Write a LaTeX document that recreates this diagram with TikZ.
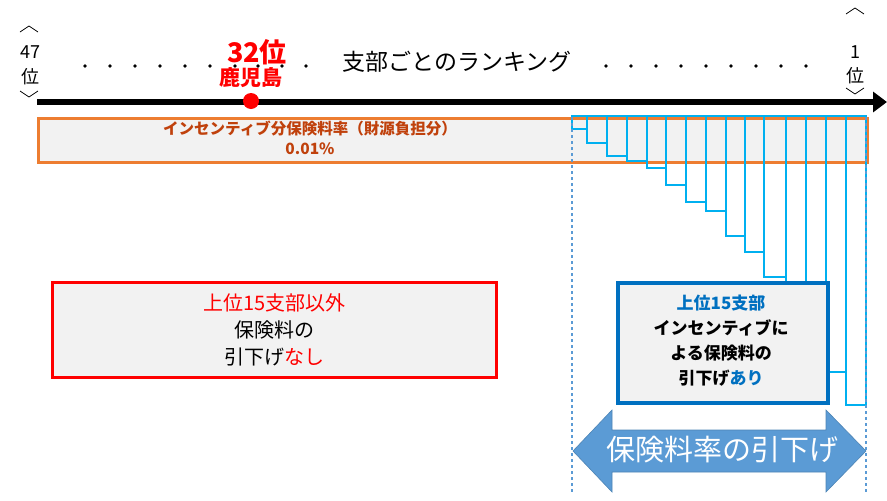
\documentclass[tikz,border=0pt]{standalone}
\usepackage{fontspec}
\setmainfont{Noto Sans CJK JP}
\usetikzlibrary{arrows.meta}
\definecolor{ored}{HTML}{ED7D31}
\definecolor{dred}{HTML}{C0410C}
\definecolor{cyanb}{HTML}{00B0F0}
\definecolor{blu}{HTML}{0070C0}
\definecolor{lblu}{HTML}{5B9BD5}
\definecolor{gfill}{HTML}{F2F2F2}
\begin{document}
\begin{tikzpicture}[x=1pt,y=-1pt,
  chev/.style={line width=0.8pt},
  lbl/.style={inner sep=0pt,align=center}]
\useasboundingbox (0,0) rectangle (887,501);
% orange box
\node[draw=ored,line width=2.6pt,fill=gfill,minimum width=829pt,minimum height=44pt,anchor=north west,inner sep=0pt] (obox) at (37,117) {};
\node[lbl,text=dred,font=\bfseries\fontsize{15.5}{20}\selectfont] (otxt) at (310,138) {インセンティブ分保険料率（財源負担分）\\0.01\%};
% bars
\foreach \a/\b/\d in {572/587/129,587/607/143,607/627/156,627/647/161,647/666/168,666/686/185,686/706/202,706/726/211,726/745/236,745/764/252,764/786/277,786/806/311,806/826/338,826/846/372,846/866/405}
  \draw[cyanb,line width=1.8pt] (\a,116) rectangle (\b,\d);
% dashed
\coordinate (d1t) at (572,117); \coordinate (d1b) at (572,492);
\coordinate (d2t) at (866,117); \coordinate (d2b) at (866,492);
\draw[lblu,dashed,line width=1.8pt] (d1t) -- (d1b);
\draw[lblu,dashed,line width=1.8pt] (d2t) -- (d2b);
% axis
\coordinate (ax1) at (37,102); \coordinate (ax2) at (887,102);
\draw[line width=6pt,-{Triangle[length=14pt,width=20pt]}] (ax1) -- (ax2);
\fill[red] (251,101) circle (8pt);
\node[lbl,text=red,font=\bfseries\fontsize{27}{27}\selectfont] (r32) at (257,52) {32位};
\node[lbl,text=red,font=\bfseries\fontsize{21}{21}\selectfont] (kago) at (251,78) {鹿児島};
\node[lbl,font=\fontsize{23}{23}\selectfont] (title) at (457,62) {支部ごとのランキング};
\foreach \x in {85,110,135,160,185,210,235,258,282,306} \fill (\x,66) circle (1.8pt);
\foreach \x in {606,631,656,681,706,731,756,781,806} \fill (\x,66) circle (1.8pt);
% 47位
\draw[chev] (20,32) -- (29,26) -- (38,32);
\node[lbl,font=\fontsize{18}{18}\selectfont] (n47) at (30,52) {47};
\node[lbl,font=\fontsize{18}{18}\selectfont] (i47) at (30,77) {位};
\draw[chev] (20,91) -- (29,97) -- (38,91);
% 1位
\draw[chev] (846,14) -- (855,8) -- (864,14);
\node[lbl,font=\fontsize{18}{18}\selectfont] (n1) at (855,52) {1};
\node[lbl,font=\fontsize{18}{18}\selectfont] (i1) at (855,76) {位};
\draw[chev] (846,88) -- (855,94) -- (864,88);
% red box
\node[draw=red,line width=3pt,fill=gfill,minimum width=444pt,minimum height=95pt,anchor=north west,inner sep=0pt] (rbox) at (51,281) {};
\node[lbl,font=\fontsize{20}{27}\selectfont] (rtxt) at (rbox.center) {\textcolor{red}{上位15支部以外}\\保険料の\\引下げ\textcolor{red}{なし}};
% blue box
\node[draw=blu,line width=3.5pt,fill=gfill,minimum width=210pt,minimum height=120pt,anchor=north west,inner sep=0pt] (bbox) at (616,281) {};
\node[lbl,font=\bfseries\fontsize{17}{25}\selectfont] (btxt) at (721,341) {\textcolor{blu}{上位15支部}\\インセンティブに\\よる保険料の\\引下げ\textcolor{blu}{あり}};
% double arrow
\fill[lblu,draw=lblu!85!black,line width=0.6pt] (573,451) -- (612,410) -- (612,430) -- (826,430) -- (826,410) -- (866,451) -- (826,492) -- (826,472) -- (612,472) -- (612,492) -- cycle;
\node[lbl,text=white,font=\fontsize{29}{29}\selectfont] (dtxt) at (722,450) {保険料率の引下げ};
\end{tikzpicture}
\end{document}
